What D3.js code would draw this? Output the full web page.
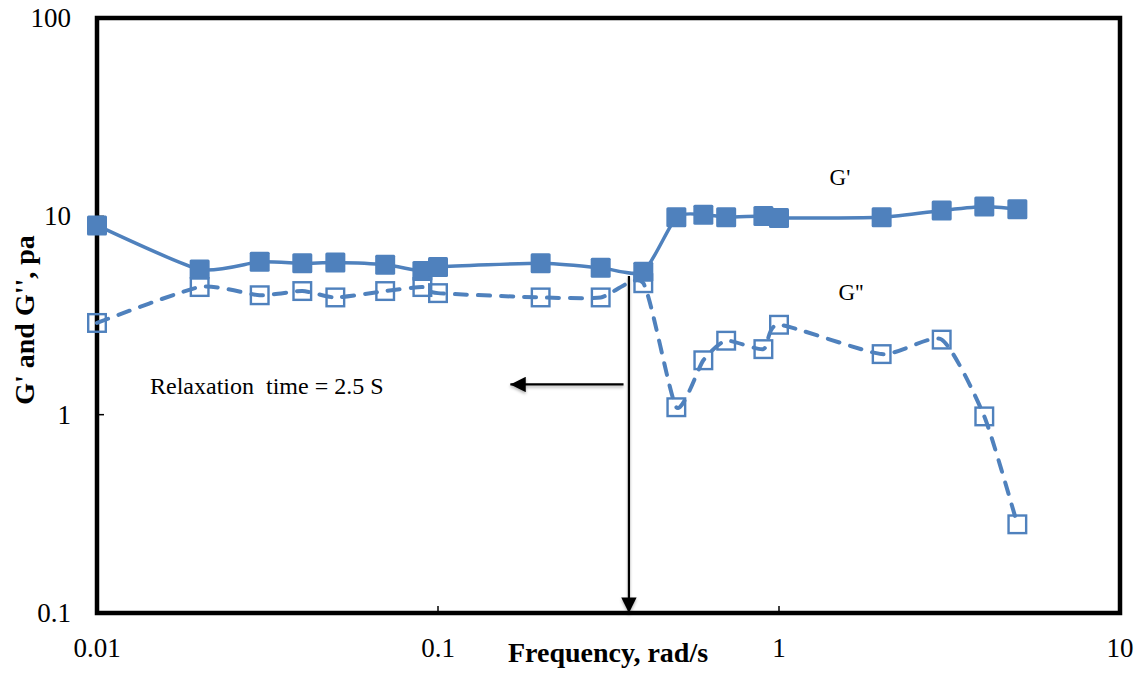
<!DOCTYPE html>
<html>
<head>
<meta charset="utf-8">
<script src="https://cdn.jsdelivr.net/npm/d3@7"></script>
<style>
  html, body { margin: 0; padding: 0; background: #fff; }
  svg { display: block; }
  svg text { font-family: "Liberation Serif", "Times New Roman", serif; }
</style>
</head>
<body>
<svg id="chart" width="1146" height="675"></svg>
<script>
// Angular frequency (rad/s)
const frequency = [0.01, 0.02, 0.03, 0.04, 0.05, 0.07, 0.09, 0.1, 0.2, 0.3, 0.4,
                   0.5, 0.6, 0.7, 0.9, 1, 2, 3, 4, 5];
// Storage modulus G' (Pa)
const storageModulus = [9.0, 5.4, 5.9, 5.8, 5.85, 5.7, 5.3, 5.55, 5.8, 5.5, 5.25,
                        9.9, 10.2, 9.9, 10.05, 9.8, 9.9, 10.7, 11.2, 10.85];
// Loss modulus G'' (Pa)
const lossModulus = [2.9, 4.4, 4.0, 4.2, 3.9, 4.2, 4.4, 4.1, 3.9, 3.9, 4.6,
                     1.09, 1.88, 2.36, 2.14, 2.84, 2.02, 2.39, 0.98, 0.28];

const xTicks = [0.01, 0.1, 1, 10];
const yTicks = [0.1, 1, 10, 100];

// Crossover annotation: frequency of the drop line and the relaxation arrow
const crossoverFreq = 0.363;
const crossoverTop = 5.0;
const arrowStartFreq = 0.35, arrowEndFreq = 0.163, arrowLevel = 1.42;

const blue = "#4F81BD";
const svg = d3.select("#chart");
const margin = { left: 97, top: 18, right: 1120, bottom: 613 };

const x = d3.scaleLog().domain([0.01, 10]).range([margin.left, margin.right]);
const y = d3.scaleLog().domain([0.1, 100]).range([margin.bottom, margin.top]);

const defs = svg.append("defs");
defs.append("marker")
  .attr("id", "head")
  .attr("viewBox", "0 0 10 10")
  .attr("refX", 10).attr("refY", 5)
  .attr("markerWidth", 7.5).attr("markerHeight", 7)
  .attr("markerUnits", "strokeWidth")
  .attr("orient", "auto")
  .append("path").attr("d", "M0,0 L10,5 L0,10 Z").attr("fill", "#000");
const shadow = defs.append("filter").attr("id", "soft")
  .attr("filterUnits", "userSpaceOnUse")
  .attr("x", 0).attr("y", 0).attr("width", 1146).attr("height", 675);
shadow.append("feDropShadow").attr("dx", 0).attr("dy", 2).attr("stdDeviation", 1.5).attr("flood-opacity", 0.3);

// Ticks (inward)
const tickG = svg.append("g").attr("stroke", "#000").attr("stroke-width", 1.5);
xTicks.slice(1, -1).forEach(t => {
  tickG.append("line").attr("x1", x(t)).attr("x2", x(t)).attr("y1", margin.bottom).attr("y2", margin.bottom - 7);
});
yTicks.slice(1, -1).forEach(t => {
  tickG.append("line").attr("x1", margin.left).attr("x2", margin.left + 7).attr("y1", y(t)).attr("y2", y(t));
});

// Plot frame
svg.append("rect")
  .attr("x", margin.left).attr("y", margin.top)
  .attr("width", margin.right - margin.left).attr("height", margin.bottom - margin.top)
  .attr("fill", "none").attr("stroke", "#000").attr("stroke-width", 4.5);

// Tick labels
const fmt = d => String(d);
svg.append("g").selectAll("text").data(xTicks).join("text")
  .attr("x", d => x(d)).attr("y", 657)
  .attr("text-anchor", "middle")
  .attr("font-size", 27)
  .text(fmt);
svg.append("g").selectAll("text").data(yTicks).join("text")
  .attr("x", 71).attr("y", d => y(d) + 9)
  .attr("text-anchor", "end")
  .attr("font-size", 27)
  .text(fmt);

// Axis titles
svg.append("text")
  .attr("x", 608).attr("y", 662)
  .attr("text-anchor", "middle")
  .attr("font-weight", "bold").attr("font-size", 28)
  .text("Frequency, rad/s");
svg.append("text")
  .attr("transform", "translate(34,320) rotate(-90)")
  .attr("text-anchor", "middle")
  .attr("font-weight", "bold").attr("font-size", 28)
  .text("G' and G'', pa");

// Series
const curve = d3.curveCardinal.tension(0.4);
const gPrime = frequency.map((f, i) => [f, storageModulus[i]]);
const gDouble = frequency.map((f, i) => [f, lossModulus[i]]);
const line = d3.line().x(d => x(d[0])).y(d => y(d[1])).curve(curve);

const ms = 20;
// G'' dashed line with open squares
svg.append("path").datum(gDouble)
  .attr("d", line).attr("fill", "none")
  .attr("stroke", blue).attr("stroke-width", 4)
  .attr("stroke-dasharray", "12,11").attr("stroke-linecap", "round");
svg.append("g").selectAll("rect").data(gDouble).join("rect")
  .attr("x", d => x(d[0]) - ms / 2 + 1.2).attr("y", d => y(d[1]) - ms / 2 + 1.2)
  .attr("width", ms - 2.4).attr("height", ms - 2.4)
  .attr("fill", "none").attr("stroke", blue).attr("stroke-width", 2.4);

// G' solid line with filled squares
svg.append("path").datum(gPrime)
  .attr("d", line).attr("fill", "none")
  .attr("stroke", blue).attr("stroke-width", 3.5);
svg.append("g").selectAll("rect").data(gPrime).join("rect")
  .attr("x", d => x(d[0]) - ms / 2).attr("y", d => y(d[1]) - ms / 2)
  .attr("width", ms).attr("height", ms).attr("rx", 1.5)
  .attr("fill", blue).attr("stroke", "none");

// Series labels
svg.append("text").attr("x", 840).attr("y", 185).attr("text-anchor", "middle")
  .attr("font-size", 23).text("G'");
svg.append("text").attr("x", 851).attr("y", 300).attr("text-anchor", "middle")
  .attr("font-size", 23).text("G''");

// Crossover drop line and relaxation-time arrow
svg.append("line")
  .attr("x1", x(crossoverFreq)).attr("x2", x(crossoverFreq))
  .attr("y1", y(crossoverTop)).attr("y2", margin.bottom)
  .attr("stroke", "#000").attr("stroke-width", 2.2)
  .attr("marker-end", "url(#head)").attr("filter", "url(#soft)");
svg.append("line")
  .attr("x1", x(arrowStartFreq)).attr("x2", x(arrowEndFreq))
  .attr("y1", y(arrowLevel)).attr("y2", y(arrowLevel))
  .attr("stroke", "#000").attr("stroke-width", 2.2)
  .attr("marker-end", "url(#head)").attr("filter", "url(#soft)");
svg.append("text").attr("x", 150).attr("y", 394)
  .attr("font-size", 24)
  .style("white-space", "pre")
  .text("Relaxation  time = 2.5 S");
</script>
</body>
</html>
